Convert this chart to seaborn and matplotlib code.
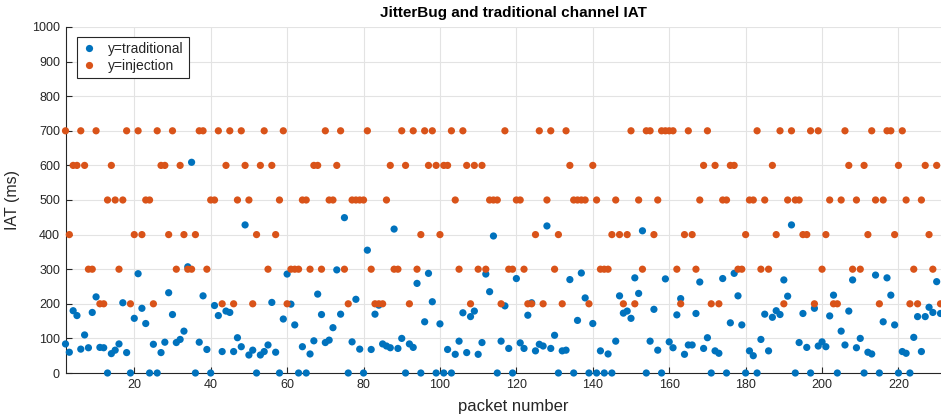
import numpy as np
import pandas as pd
import matplotlib
matplotlib.use("Agg")
import matplotlib.pyplot as plt
import seaborn as sns

# ---------------- data ----------------
packets = list(range(2, 232))

traditional = [
    84, 60, 180, 166, 69, 110, 73, 175, 220, 74, 73, 0, 56, 66, 84, 203, 59, 0, 158, 287,
    187, 143, 0, 83, 0, 59, 89, 232, 169, 88,
    97, 121, 307, 609, 0, 89, 223, 68, 0, 195, 166, 62, 179, 175, 62, 102, 76, 428, 52, 66,
    0, 52, 62, 81, 204, 60, 0, 156, 286,
    199, 139, 0, 76, 0, 55, 93, 228, 169, 88, 95, 131, 298, 170, 449, 0, 90, 213, 69, 0,
    355, 68, 170, 196, 84, 78, 73, 416, 71, 100,
    0, 84, 74, 259, 0, 148, 288, 206, 0, 142, 0, 68, 0, 54, 92, 174, 59, 163, 179, 54,
    88, 286, 235, 396, 0, 92, 194, 71, 0, 273,
    87, 71, 167, 203, 64, 83, 78, 425, 71, 109, 0, 64, 66, 270, 0, 152, 289, 217, 0, 143,
    0, 64, 0, 55, 0, 92, 223, 173, 179, 158,
    275, 230, 411, 0, 92, 184, 66, 0, 272, 90, 73, 168, 215, 54, 81, 81, 172, 263, 71, 102,
    0, 64, 57, 273, 0, 145, 288, 223, 139, 0,
    64, 50, 0, 97, 170, 64, 161, 180, 169, 269, 222, 428, 0, 88, 172, 74, 0, 187, 78, 90,
    76, 165, 225, 0, 121, 81, 179, 269, 73, 100,
    0, 60, 55, 283, 0, 148, 275, 225, 139, 0, 62, 57, 0, 103, 163, 62, 163, 190, 175, 264,
    172,
]

injection = [
    700, 400, 600, 600, 700, 600, 300, 300, 700, 200, 200, 500, 600, 500, 300, 500, 700, 200, 400, 700,
    400, 500, 500, 200, 700, 600, 600, 400, 700, 300,
    600, 400, 300, 300, 400, 700, 700, 300, 500, 500, 700, 200, 600, 700, 200, 500, 700, 600, 500, 200,
    400, 600, 700, 300, 600, 400, 500, 700, 200,
    300, 300, 300, 500, 500, 300, 600, 600, 300, 700, 500, 500, 600, 700, 300, 200, 500, 500, 500, 500,
    700, 300, 200, 200, 200, 500, 600, 300, 300, 700,
    600, 200, 700, 300, 400, 700, 600, 700, 600, 400, 600, 600, 700, 500, 300, 700, 600, 200, 600, 300,
    600, 300, 500, 500, 500, 200, 700, 300, 300, 500,
    500, 300, 200, 200, 400, 700, 200, 500, 700, 300, 400, 200, 700, 600, 500, 500, 500, 500, 200, 600,
    500, 300, 300, 300, 400, 500, 400, 200, 400, 700,
    200, 500, 300, 700, 700, 400, 500, 700, 700, 700, 700, 300, 200, 400, 700, 400, 300, 500, 600, 700,
    200, 600, 200, 500, 500, 600, 600, 300, 300, 400,
    500, 500, 700, 300, 500, 300, 600, 400, 700, 200, 500, 700, 500, 500, 400, 400, 700, 200, 700, 300,
    400, 500, 200, 200, 500, 700, 600, 300, 500, 300,
    600, 400, 700, 500, 200, 500, 700, 700, 400, 600, 700, 500, 200, 300, 200, 500, 600, 400, 300, 600,
    200,
]

series_labels = ["y=traditional", "y=injection"]
series_colors = ["#0072BD", "#D95319"]
x_ticks = list(range(20, 240, 20))
y_ticks = list(range(0, 1100, 100))
title_text = "JitterBug and traditional channel IAT"
x_label = "packet number"
y_label = "IAT (ms)"

# ---------------- figure ----------------
sns.set_theme(style="white")
plt.rcParams["font.family"] = ["Liberation Sans", "DejaVu Sans"]

df = pd.DataFrame({
    "packet": packets + packets,
    "iat": traditional + injection,
    "series": [series_labels[0]] * len(packets) + [series_labels[1]] * len(packets),
})

W, H = 941, 420
fig = plt.figure(figsize=(W / 100, H / 100), dpi=100)
fig.patch.set_facecolor("white")
ax = fig.add_axes([65.5 / W, 47 / H, 875 / W, 346 / H])

sns.scatterplot(
    data=df, x="packet", y="iat", hue="series",
    hue_order=series_labels, palette=series_colors,
    s=27, linewidth=0, alpha=1.0, ax=ax, clip_on=False, zorder=3,
)

ax.set_xlim(2, 231)
ax.set_ylim(0, 1000)
ax.set_xticks(x_ticks)
ax.set_yticks(y_ticks)
ax.grid(True, color="#e3e3e3", linewidth=0.8)
ax.set_axisbelow(True)

for side in ["top", "right"]:
    ax.spines[side].set_visible(False)
for side in ["left", "bottom"]:
    ax.spines[side].set_color("#262626")
    ax.spines[side].set_linewidth(0.8)

ax.tick_params(axis="both", direction="in", length=4, width=0.8,
               colors="#262626", labelsize=9, pad=4,
               bottom=True, left=True)

center_x = (513 - 65.5) / 875
ax.set_xlabel(x_label, fontsize=12, color="#262626")
ax.xaxis.set_label_coords(center_x, -0.075)
ax.set_ylabel(y_label, fontsize=11.5, color="#262626")
ax.yaxis.set_label_coords(-0.052, 0.5)
ax.set_title(title_text, fontsize=11, fontweight="bold", color="#000000",
             x=center_x, pad=7)

leg = ax.legend(loc="upper left", bbox_to_anchor=(0.013, 0.972),
                fontsize=10, frameon=True, fancybox=False,
                edgecolor="#262626", framealpha=1.0, borderpad=0.35,
                handletextpad=0.9, labelspacing=0.25, borderaxespad=0,
                handlelength=1.0, markerscale=1.0)
leg.get_frame().set_linewidth(0.8)
leg.set_zorder(5)

fig.savefig("out.png", dpi=100, facecolor="white")
